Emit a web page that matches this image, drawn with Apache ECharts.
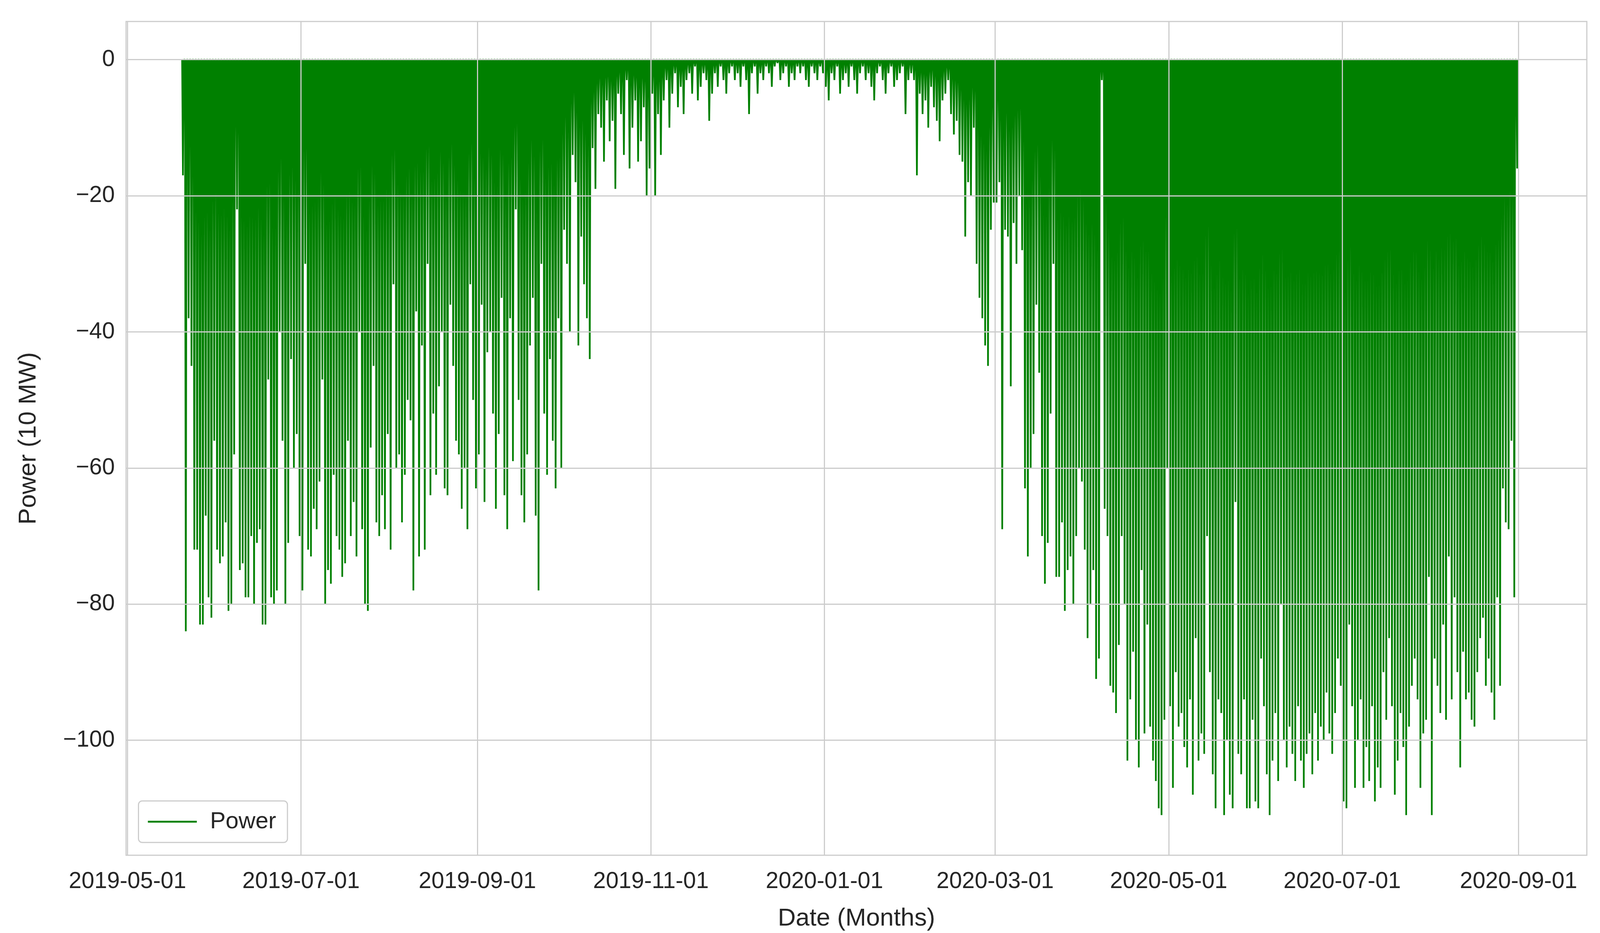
<!DOCTYPE html>
<html>
<head>
<meta charset="utf-8">
<script src="https://cdn.jsdelivr.net/npm/echarts@6/dist/echarts.min.js"></script>
<style>html,body{margin:0;padding:0;background:#fff;overflow:hidden}#chart{width:100vw;height:100vh}</style>
</head>
<body>
<div id="chart"></div>
<script>
// daily minimum power (10 MW), from 2019-05-20
var may19 = [-17,-84,-38,-45,-72,-72,-83,-83,-67,-79,-82,-56];
var jun19 = [-72,-74,-73,-68,-81,-80,-58,-22,-75,-74,-79,-79,-70,-80,-71,-69,-83,-83,-47,-79,-80,-78,-40,-56,-80,-71,-44,-60,-55,-70];
var jul19 = [-78,-30,-72,-73,-66,-69,-62,-47,-80,-75,-77,-61,-70,-72,-76,-74,-56,-70,-65,-73,-40,-69,-80,-81,-57,-45,-68,-70,-64,-69,-55];
var aug19 = [-72,-33,-60,-58,-68,-61,-50,-53,-78,-37,-73,-42,-72,-30,-64,-52,-61,-48,-40,-63,-64,-36,-45,-56,-58,-66,-60,-69,-33,-50,-63];
var sep19 = [-58,-36,-65,-43,-40,-52,-66,-55,-35,-64,-69,-38,-59,-22,-50,-64,-68,-58,-42,-35,-67,-78,-30,-52,-61,-44,-56,-63,-38,-60];
var oct19 = [-25,-30,-40,-14,-18,-42,-26,-33,-38,-44,-13,-19,-8,-10,-15,-6,-12,-9,-19,-5,-8,-14,-3,-16,-10,-6,-15,-12,-7,-20,-16];
var nov19 = [-5,-20,-8,-14,-6,-3,-10,-5,-2,-7,-4,-8,-3,-2,-5,-1,-6,-4,-2,-3,-9,-5,-2,-4,-1,-3,-5,-2,-1,-3];
var dec19 = [-2,-4,-1,-3,-8,-2,-1,-5,-2,-3,-1,-2,-4,-1,-0.5,-3,-2,-1,-4,-2,-3,-1,-2,-1,-3,-4,-1,-2,-3,-1,-2];
var jan20 = [-4,-6,-2,-3,-1,-5,-3,-2,-4,-1,-3,-5,-2,-1,-3,-2,-4,-6,-2,-1,-3,-5,-2,-1,-4,-3,-2,-1,-8,-3,-2];
var feb20 = [-3,-17,-5,-8,-6,-10,-4,-7,-9,-12,-6,-5,-3,-8,-11,-9,-14,-15,-26,-18,-20,-10,-30,-35,-38,-42,-45,-25,-21];
var mar20 = [-21,-18,-69,-25,-26,-48,-24,-30,-20,-28,-63,-73,-60,-55,-36,-46,-70,-77,-71,-52,-30,-76,-76,-68,-81,-75,-73,-80,-70,-60,-62];
var apr20 = [-72,-85,-80,-75,-91,-88,-3,-66,-70,-92,-93,-96,-86,-70,-80,-103,-94,-87,-100,-104,-75,-99,-83,-98,-103,-106,-110,-111,-97,-60];
var may20 = [-95,-107,-90,-98,-96,-101,-104,-94,-108,-85,-103,-99,-102,-70,-90,-105,-110,-94,-96,-111,-100,-108,-110,-65,-102,-105,-94,-110,-110,-97,-109];
var jun20 = [-110,-88,-95,-105,-111,-103,-96,-106,-80,-100,-104,-98,-102,-106,-95,-103,-107,-102,-99,-105,-96,-103,-98,-100,-93,-99,-102,-96,-88,-92];
var jul20 = [-109,-110,-83,-95,-107,-100,-94,-107,-101,-106,-95,-109,-104,-107,-90,-97,-85,-95,-108,-103,-96,-101,-111,-98,-92,-88,-94,-107,-99,-97,-76];
var aug20 = [-111,-88,-92,-96,-83,-97,-73,-94,-79,-90,-104,-87,-94,-93,-97,-98,-90,-85,-82,-92,-88,-93,-97,-79,-92,-63,-68,-69,-56,-79,-16];

var xTickLabels = ['2019-05-01','2019-07-01','2019-09-01','2019-11-01','2020-01-01','2020-03-01','2020-05-01','2020-07-01','2020-09-01'];
var yTicks = [-100, -80, -60, -40, -20, 0];

var HOUR = 3600000, DAY = 86400000;
var start = Date.UTC(2019, 4, 20);
var troughs = [].concat(may19, jun19, jul19, aug19, sep19, oct19, nov19, dec19, jan20, feb20, mar20, apr20, may20, jun20, jul20, aug20);

// each day: zero at night, minimum around noon
var data = [];
troughs.forEach(function (v, i) {
    var t = start + i * DAY;
    data.push([t + 5 * HOUR, 0], [t + 12 * HOUR, v], [t + 19 * HOUR, 0]);
});

function toMs(s) {
    var p = s.split('-');
    return Date.UTC(+p[0], +p[1] - 1, +p[2]);
}
function pad(n) { return n < 10 ? '0' + n : '' + n; }
var xTicks = xTickLabels.map(toMs);

// layout was measured on a 4252 x 2388 page; scale to whatever the window is
var W = window.innerWidth, H = window.innerHeight;
var sx = W / 4252, sy = H / 2388, s = Math.min(sx, sy);

var font = 'Liberation Sans';
var gridColor = '#cccccc';
var textColor = '#262626';

var chart = echarts.init(document.getElementById('chart'));
chart.setOption({
    backgroundColor: '#ffffff',
    animation: false,
    textStyle: {fontFamily: font},
    grid: {left: 335 * sx, right: 35 * sx, top: 55 * sy, bottom: 199 * sy, show: true, borderColor: gridColor, borderWidth: 3 * s, backgroundColor: 'transparent'},
    legend: {
        left: 368 * sx, top: 2050 * sy,
        itemWidth: 130 * s, itemHeight: 5 * s, itemGap: 20 * s,
        padding: [24 * s, 30 * s, 24 * s, 25 * s],
        borderColor: gridColor, borderWidth: 3 * s, borderRadius: 10 * s,
        backgroundColor: '#ffffff',
        textStyle: {fontSize: 62 * s, color: textColor, fontFamily: font, padding: [0, 0, 0, 30 * s]},
        data: [{name: 'Power', icon: 'rect'}]
    },
    xAxis: {
        type: 'value',
        min: Date.UTC(2019, 3, 30, 12),
        max: Date.UTC(2020, 8, 25),
        name: 'Date (Months)', nameLocation: 'middle', nameGap: 135 * s,
        nameTextStyle: {fontSize: 66 * s, color: textColor, fontFamily: font},
        axisLine: {show: false}, axisTick: {show: false}, splitLine: {show: false},
        axisLabel: {
            customValues: xTicks, margin: 40 * s, fontSize: 61 * s, color: textColor, fontFamily: font,
            formatter: function (v) {
                var d = new Date(v);
                return d.getUTCFullYear() + '-' + pad(d.getUTCMonth() + 1) + '-' + pad(d.getUTCDate());
            }
        }
    },
    yAxis: {
        type: 'value',
        min: -116.9, max: 5.6,
        name: 'Power (10 MW)', nameLocation: 'middle', nameGap: 225 * s, nameRotate: 90,
        nameTextStyle: {fontSize: 66 * s, color: textColor, fontFamily: font},
        axisLine: {show: false}, axisTick: {show: false}, splitLine: {show: false},
        axisLabel: {customValues: yTicks, margin: 30 * s, fontSize: 61 * s, color: textColor, fontFamily: font,
            formatter: function (v) { return v < 0 ? '\u2212' + (-v) : '' + v; }}
    },
    series: [
        {
            name: 'grid', type: 'line', data: [], z: 0, silent: true,
            markLine: {
                silent: true, symbol: 'none', animation: false, label: {show: false},
                lineStyle: {color: gridColor, width: 3 * s, type: 'solid'},
                data: xTicks.map(function (t) { return {xAxis: t}; }).concat(yTicks.map(function (v) { return {yAxis: v}; }))
            }
        },
        {
            name: 'Power', type: 'line', data: data, z: 3,
            symbol: 'none', sampling: null,
            lineStyle: {color: '#008000', width: 4.5 * s},
            itemStyle: {color: '#008000'}
        }
    ]
});
</script>
</body>
</html>
